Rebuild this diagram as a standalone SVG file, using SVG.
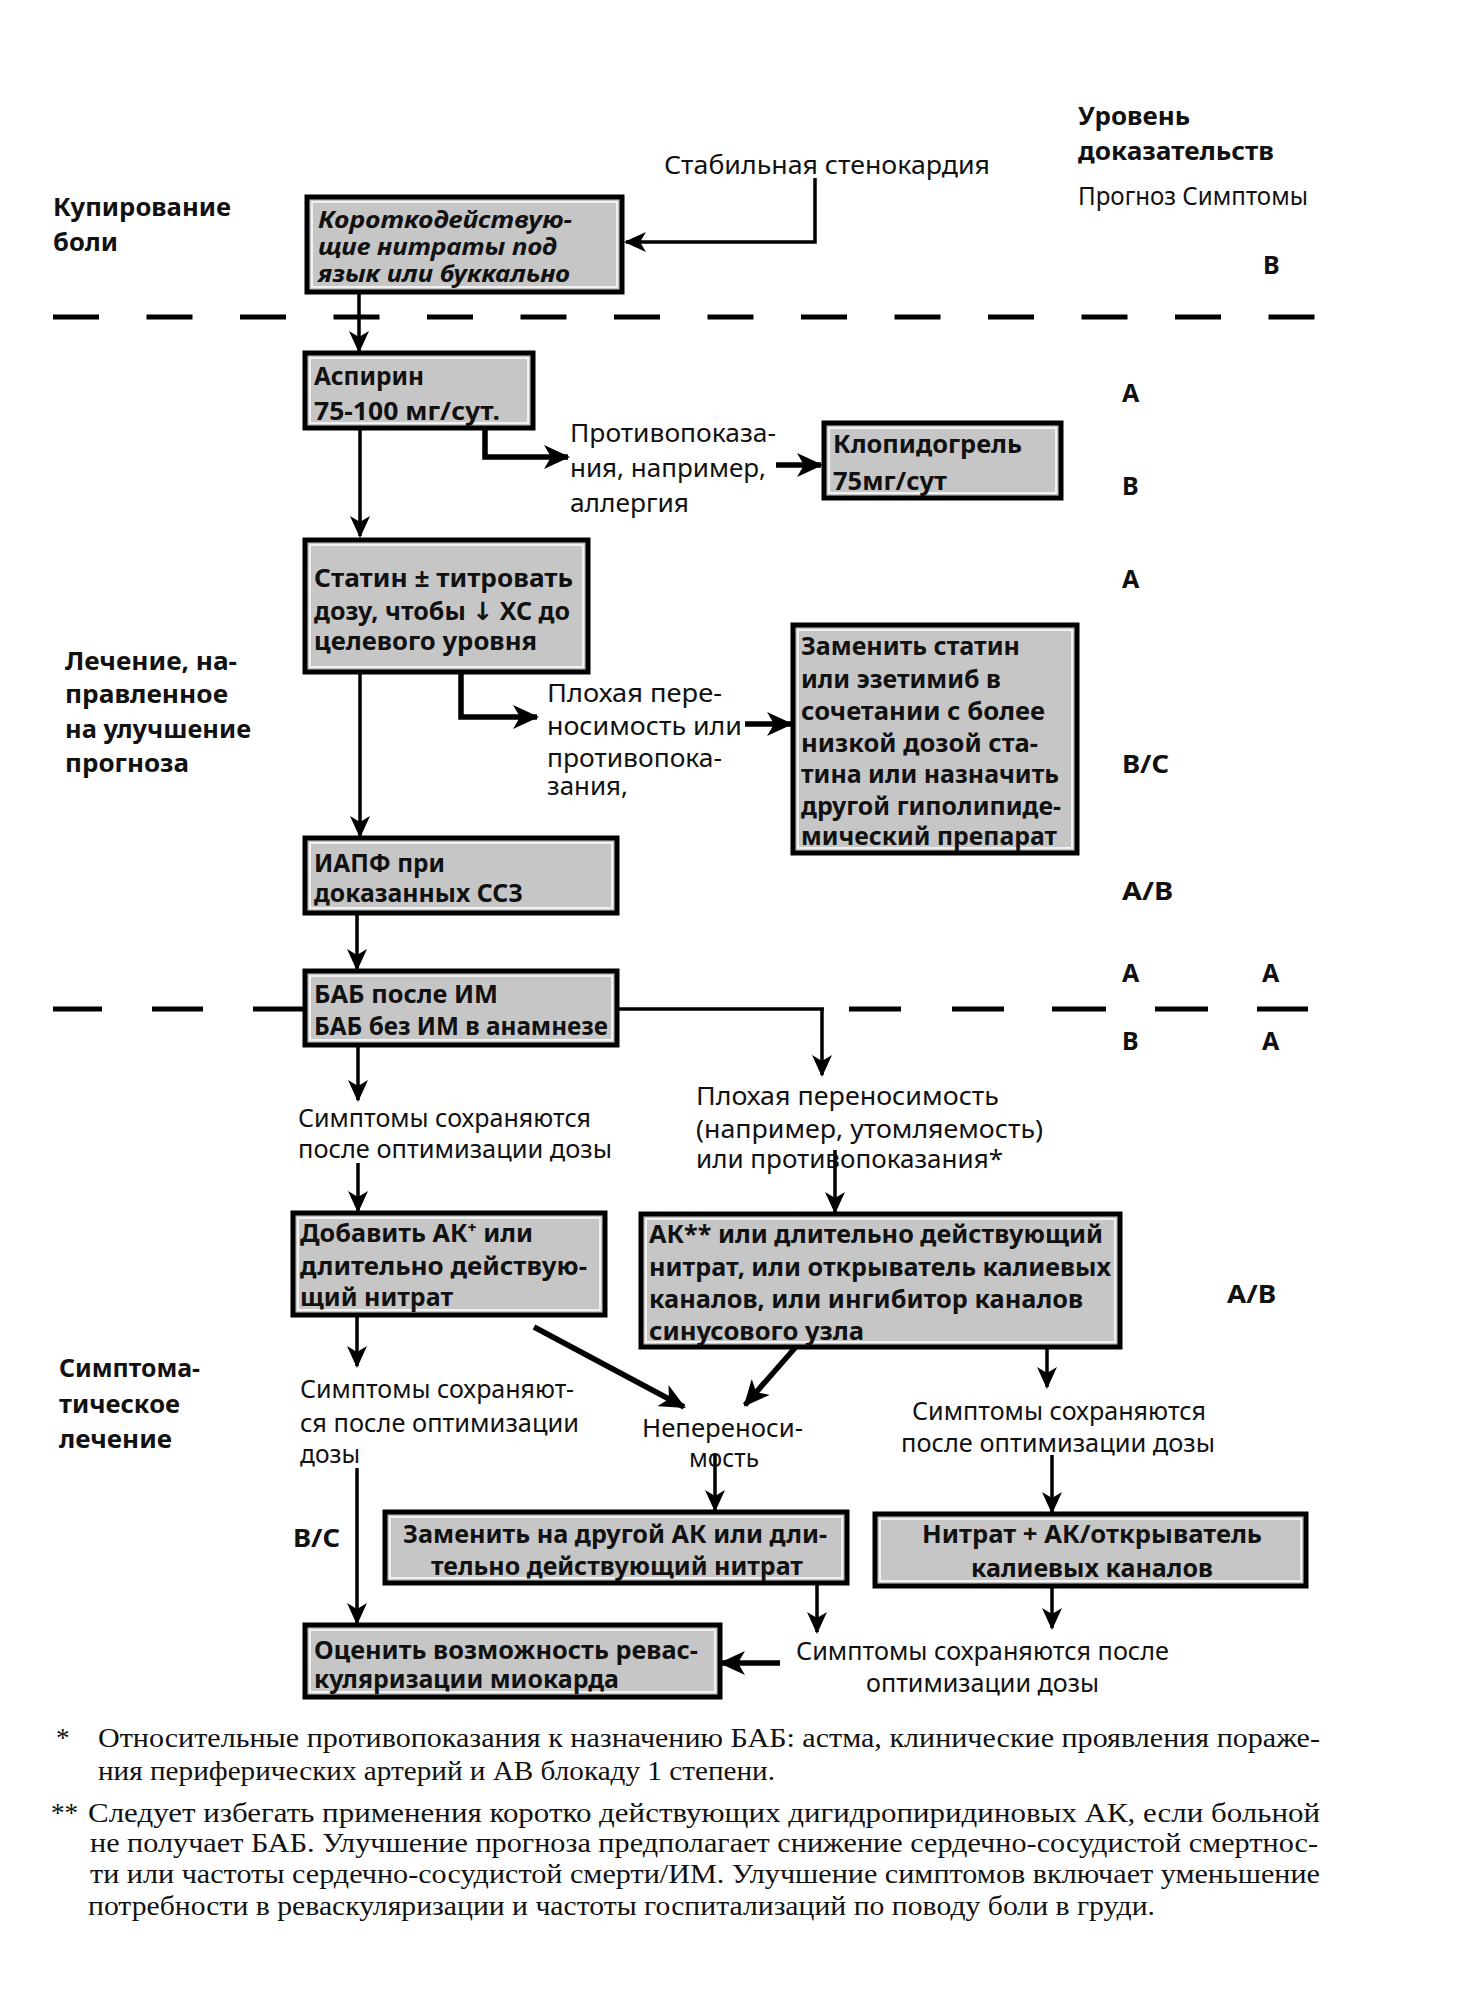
<svg xmlns="http://www.w3.org/2000/svg" width="1460" height="2008" viewBox="0 0 1460 2008">
<style>
text{font-family:"Noto Sans","Open Sans","DejaVu Sans",sans-serif;font-size:25px;fill:#111}
.b{font-weight:bold}
.i{font-style:italic;font-weight:bold;font-size:24px}
.fn{font-family:"Liberation Serif","DejaVu Serif",serif;font-size:27px}
.box{fill:#c6c6c6;stroke:#000;stroke-width:5}
.inner{fill:none;stroke:#fff;stroke-width:1.5}
.c{fill:none;stroke:#000;stroke-width:3.5}
.ct{fill:none;stroke:#000;stroke-width:5.5}
.dash{fill:none;stroke:#000;stroke-width:5}
</style>
<defs>
<marker id="ah" markerUnits="userSpaceOnUse" markerWidth="22" markerHeight="20" viewBox="0 0 22 20" refX="20" refY="10" orient="auto"><path d="M0,0 L22,10 L0,20 L6,10 z" fill="#000"/></marker>
<marker id="ahb" markerUnits="userSpaceOnUse" markerWidth="26" markerHeight="24" viewBox="0 0 26 24" refX="24" refY="12" orient="auto"><path d="M0,0 L26,12 L0,24 L7,12 z" fill="#000"/></marker>
</defs>

<g id="separators">
<path class="dash" d="M53,317 H1315" stroke-dasharray="46 47.5"/>
<path class="dash" d="M53,1009 H102 M152,1009 H203 M253,1009 H303 M849,1009 H901 M952,1009 H1004 M1052,1009 H1106 M1155,1009 H1208 M1257,1009 H1308"/>
</g>

<g id="connectors">
<path class="c" d="M815,178 V242 H626" marker-end="url(#ah)"/>
<path class="c" d="M359,292 V351" marker-end="url(#ah)"/>
<path class="c" d="M360,428 V536" marker-end="url(#ah)"/>
<path class="ct" d="M485,428 V457 H568" marker-end="url(#ahb)"/>
<path class="ct" d="M776,465 H821" marker-end="url(#ahb)"/>
<path class="c" d="M360,672 V836" marker-end="url(#ah)"/>
<path class="ct" d="M461,672 V717 H537" marker-end="url(#ahb)"/>
<path class="ct" d="M745,724 H791" marker-end="url(#ahb)"/>
<path class="c" d="M357,913 V969" marker-end="url(#ah)"/>
<path class="c" d="M617,1009 H824"/>
<path class="c" d="M822,1009 V1075" marker-end="url(#ah)"/>
<path class="c" d="M358,1045 V1100" marker-end="url(#ah)"/>
<path class="c" d="M358,1163 V1211" marker-end="url(#ah)"/>
<path class="c" d="M835,1150 V1212" marker-end="url(#ah)"/>
<path class="c" d="M357,1315 V1366" marker-end="url(#ah)"/>
<path class="ct" d="M534,1327 L684,1407" marker-end="url(#ahb)"/>
<path class="ct" d="M815,1325 L745,1405" marker-end="url(#ahb)"/>
<path class="c" d="M1047,1328 V1387" marker-end="url(#ah)"/>
<path class="c" d="M715,1455 V1510" marker-end="url(#ah)"/>
<path class="c" d="M1052,1455 V1512" marker-end="url(#ah)"/>
<path class="c" d="M357,1468 V1623" marker-end="url(#ah)"/>
<path class="c" d="M817,1583 V1632" marker-end="url(#ah)"/>
<path class="c" d="M1052,1587 V1628" marker-end="url(#ah)"/>
<path class="ct" d="M780,1663 H721" marker-end="url(#ahb)"/>
</g>

<g id="n-nitrates">
<rect class="box" x="307" y="197" width="315" height="95"/><rect class="inner" x="312" y="202" width="305" height="85"/>
<text class="i" x="318" y="228" textLength="254" lengthAdjust="spacingAndGlyphs">Короткодействую-</text>
<text class="i" x="318" y="255" textLength="239" lengthAdjust="spacingAndGlyphs">щие нитраты под</text>
<text class="i" x="318" y="282" textLength="252" lengthAdjust="spacingAndGlyphs">язык или буккально</text>
</g>
<g id="n-aspirin">
<rect class="box" x="305" y="353" width="228" height="75"/><rect class="inner" x="310" y="358" width="218" height="65"/>
<text class="b" x="314" y="385" textLength="110" lengthAdjust="spacingAndGlyphs">Аспирин</text>
<text class="b" x="314" y="420" textLength="186" lengthAdjust="spacingAndGlyphs">75-100 мг/сут.</text>
</g>
<g id="n-clopidogrel">
<rect class="box" x="824" y="423" width="237" height="75"/><rect class="inner" x="829" y="428" width="227" height="65"/>
<text class="b" x="833" y="453" textLength="189" lengthAdjust="spacingAndGlyphs">Клопидогрель</text>
<text class="b" x="833" y="490" textLength="114" lengthAdjust="spacingAndGlyphs">75мг/сут</text>
</g>
<g id="n-statin">
<rect class="box" x="305" y="540" width="283" height="132"/><rect class="inner" x="310" y="545" width="273" height="122"/>
<text class="b" x="314" y="587" textLength="259" lengthAdjust="spacingAndGlyphs">Статин  ± титровать</text>
<text class="b" x="314" y="620" textLength="256" lengthAdjust="spacingAndGlyphs">дозу, чтобы ↓ ХС до</text>
<text class="b" x="314" y="650" textLength="223" lengthAdjust="spacingAndGlyphs">целевого уровня</text>
</g>
<g id="n-replace-statin">
<rect class="box" x="793" y="625" width="284" height="228"/><rect class="inner" x="798" y="630" width="274" height="218"/>
<text class="b" x="801" y="655" textLength="219" lengthAdjust="spacingAndGlyphs">Заменить статин</text>
<text class="b" x="801" y="688" textLength="200" lengthAdjust="spacingAndGlyphs">или эзетимиб в</text>
<text class="b" x="801" y="720" textLength="244" lengthAdjust="spacingAndGlyphs">сочетании с более</text>
<text class="b" x="801" y="752" textLength="237" lengthAdjust="spacingAndGlyphs">низкой дозой ста-</text>
<text class="b" x="801" y="783" textLength="258" lengthAdjust="spacingAndGlyphs">тина или назначить</text>
<text class="b" x="801" y="815" textLength="260" lengthAdjust="spacingAndGlyphs">другой гиполипиде-</text>
<text class="b" x="801" y="845" textLength="256" lengthAdjust="spacingAndGlyphs">мический препарат</text>
</g>
<g id="n-iapf">
<rect class="box" x="305" y="838" width="312" height="75"/><rect class="inner" x="310" y="843" width="302" height="65"/>
<text class="b" x="314" y="872" textLength="131" lengthAdjust="spacingAndGlyphs">ИАПФ при</text>
<text class="b" x="314" y="902" textLength="209" lengthAdjust="spacingAndGlyphs">доказанных ССЗ</text>
</g>
<g id="n-bab">
<rect class="box" x="305" y="971" width="312" height="74"/><rect class="inner" x="310" y="976" width="302" height="64"/>
<text class="b" x="314" y="1003" textLength="184" lengthAdjust="spacingAndGlyphs">БАБ после ИМ</text>
<text class="b" x="314" y="1035" textLength="294" lengthAdjust="spacingAndGlyphs">БАБ без ИМ в анамнезе</text>
</g>
<g id="n-add-ak">
<rect class="box" x="293" y="1213" width="312" height="102"/><rect class="inner" x="298" y="1218" width="302" height="92"/>
<text class="b" x="300" y="1242" textLength="233" lengthAdjust="spacingAndGlyphs">Добавить АК⁺ или</text>
<text class="b" x="300" y="1275" textLength="287" lengthAdjust="spacingAndGlyphs">длительно действую-</text>
<text class="b" x="300" y="1306" textLength="153" lengthAdjust="spacingAndGlyphs">щий нитрат</text>
</g>
<g id="n-ak-alt">
<rect class="box" x="641" y="1214" width="479" height="133"/><rect class="inner" x="646" y="1219" width="469" height="123"/>
<text class="b" x="649" y="1243" textLength="454" lengthAdjust="spacingAndGlyphs">АК** или длительно действующий</text>
<text class="b" x="649" y="1276" textLength="462" lengthAdjust="spacingAndGlyphs">нитрат, или открыватель калиевых</text>
<text class="b" x="649" y="1308" textLength="434" lengthAdjust="spacingAndGlyphs">каналов, или ингибитор каналов</text>
<text class="b" x="649" y="1340" textLength="215" lengthAdjust="spacingAndGlyphs">синусового узла</text>
</g>
<g id="n-replace-ak">
<rect class="box" x="385" y="1512" width="462" height="71"/><rect class="inner" x="390" y="1517" width="452" height="61"/>
<text class="b" x="403" y="1543" textLength="424" lengthAdjust="spacingAndGlyphs">Заменить на другой АК или дли-</text>
<text class="b" x="431" y="1575" textLength="372" lengthAdjust="spacingAndGlyphs">тельно действующий нитрат</text>
</g>
<g id="n-nitrate-ak">
<rect class="box" x="875" y="1514" width="431" height="72"/><rect class="inner" x="880" y="1519" width="421" height="62"/>
<text class="b" x="922" y="1543" textLength="340" lengthAdjust="spacingAndGlyphs">Нитрат + АК/открыватель</text>
<text class="b" x="971" y="1577" textLength="242" lengthAdjust="spacingAndGlyphs">калиевых каналов</text>
</g>
<g id="n-revasc">
<rect class="box" x="305" y="1625" width="415" height="72"/><rect class="inner" x="310" y="1630" width="405" height="62"/>
<text class="b" x="314" y="1659" textLength="384" lengthAdjust="spacingAndGlyphs">Оценить возможность ревас-</text>
<text class="b" x="314" y="1688" textLength="305" lengthAdjust="spacingAndGlyphs">куляризации миокарда</text>
</g>

<g id="labels">
<text class="b" x="1078" y="125" textLength="112" lengthAdjust="spacingAndGlyphs">Уровень</text>
<text class="b" x="1078" y="160" textLength="196" lengthAdjust="spacingAndGlyphs">доказательств</text>
<text x="1078" y="205" textLength="230" lengthAdjust="spacingAndGlyphs">Прогноз  Симптомы</text>
<text x="664" y="174" textLength="326" lengthAdjust="spacingAndGlyphs">Стабильная стенокардия</text>
<text class="b" x="53" y="216" textLength="178" lengthAdjust="spacingAndGlyphs">Купирование</text>
<text class="b" x="53" y="251" textLength="65" lengthAdjust="spacingAndGlyphs">боли</text>
<text class="b" x="1263" y="274">В</text>
<text class="b" x="1122" y="402">А</text>
<text class="b" x="1122" y="495">В</text>
<text class="b" x="1122" y="588">А</text>
<text class="b" x="1122" y="773" textLength="47" lengthAdjust="spacingAndGlyphs">В/С</text>
<text class="b" x="1122" y="900" textLength="51" lengthAdjust="spacingAndGlyphs">А/В</text>
<text class="b" x="1122" y="982">А</text>
<text class="b" x="1262" y="982">А</text>
<text class="b" x="1122" y="1050">В</text>
<text class="b" x="1262" y="1050">А</text>
<text class="b" x="1227" y="1303" textLength="49" lengthAdjust="spacingAndGlyphs">А/В</text>
<text class="b" x="293" y="1547" textLength="47" lengthAdjust="spacingAndGlyphs">В/С</text>
<text x="570" y="442" textLength="206" lengthAdjust="spacingAndGlyphs">Противопоказа-</text>
<text x="570" y="477" textLength="196" lengthAdjust="spacingAndGlyphs">ния, например,</text>
<text x="570" y="512" textLength="119" lengthAdjust="spacingAndGlyphs">аллергия</text>
<text class="b" x="65" y="670" textLength="172" lengthAdjust="spacingAndGlyphs">Лечение, на-</text>
<text class="b" x="65" y="703" textLength="163" lengthAdjust="spacingAndGlyphs">правленное</text>
<text class="b" x="65" y="738" textLength="186" lengthAdjust="spacingAndGlyphs">на улучшение</text>
<text class="b" x="65" y="772" textLength="124" lengthAdjust="spacingAndGlyphs">прогноза</text>
<text x="547" y="702" textLength="175" lengthAdjust="spacingAndGlyphs">Плохая пере-</text>
<text x="547" y="735" textLength="195" lengthAdjust="spacingAndGlyphs">носимость или</text>
<text x="547" y="767" textLength="175" lengthAdjust="spacingAndGlyphs">противопока-</text>
<text x="547" y="795" textLength="81" lengthAdjust="spacingAndGlyphs">зания,</text>
<text x="696" y="1105" textLength="303" lengthAdjust="spacingAndGlyphs">Плохая переносимость</text>
<text x="696" y="1138" textLength="347" lengthAdjust="spacingAndGlyphs">(например, утомляемость)</text>
<text x="696" y="1168" textLength="307" lengthAdjust="spacingAndGlyphs">или противопоказания*</text>
<text x="298" y="1127" textLength="293" lengthAdjust="spacingAndGlyphs">Симптомы сохраняются</text>
<text x="298" y="1158" textLength="314" lengthAdjust="spacingAndGlyphs">после оптимизации дозы</text>
<text class="b" x="59" y="1377" textLength="141" lengthAdjust="spacingAndGlyphs">Симптома-</text>
<text class="b" x="59" y="1413" textLength="121" lengthAdjust="spacingAndGlyphs">тическое</text>
<text class="b" x="59" y="1448" textLength="113" lengthAdjust="spacingAndGlyphs">лечение</text>
<text x="300" y="1398" textLength="274" lengthAdjust="spacingAndGlyphs">Симптомы сохраняют-</text>
<text x="300" y="1432" textLength="279" lengthAdjust="spacingAndGlyphs">ся после оптимизации</text>
<text x="300" y="1463" textLength="60" lengthAdjust="spacingAndGlyphs">дозы</text>
<text x="642" y="1437" textLength="161" lengthAdjust="spacingAndGlyphs">Непереноси-</text>
<text x="689" y="1467" textLength="70" lengthAdjust="spacingAndGlyphs">мость</text>
<text x="912" y="1420" textLength="294" lengthAdjust="spacingAndGlyphs">Симптомы сохраняются</text>
<text x="901" y="1452" textLength="314" lengthAdjust="spacingAndGlyphs">после оптимизации дозы</text>
<text x="796" y="1660" textLength="373" lengthAdjust="spacingAndGlyphs">Симптомы сохраняются после</text>
<text x="866" y="1692" textLength="233" lengthAdjust="spacingAndGlyphs">оптимизации дозы</text>
</g>

<g id="footnotes">
<text class="fn" x="56" y="1747">*</text>
<text class="fn" x="98" y="1747" textLength="1222" lengthAdjust="spacingAndGlyphs">Относительные противопоказания к назначению БАБ: астма, клинические проявления пораже-</text>
<text class="fn" x="98" y="1780" textLength="677" lengthAdjust="spacingAndGlyphs">ния периферических артерий и АВ блокаду 1 степени.</text>
<text class="fn" x="51" y="1822">**</text>
<text class="fn" x="88" y="1822" textLength="1232" lengthAdjust="spacingAndGlyphs">Следует избегать применения коротко действующих дигидропиридиновых АК, если больной</text>
<text class="fn" x="90" y="1852" textLength="1228" lengthAdjust="spacingAndGlyphs">не получает БАБ. Улучшение прогноза предполагает снижение сердечно-сосудистой смертнос-</text>
<text class="fn" x="90" y="1883" textLength="1230" lengthAdjust="spacingAndGlyphs">ти или частоты сердечно-сосудистой смерти/ИМ. Улучшение симптомов включает уменьшение</text>
<text class="fn" x="88" y="1915" textLength="1067" lengthAdjust="spacingAndGlyphs">потребности в реваскуляризации и частоты госпитализаций по поводу боли в груди.</text>
</g>
</svg>
